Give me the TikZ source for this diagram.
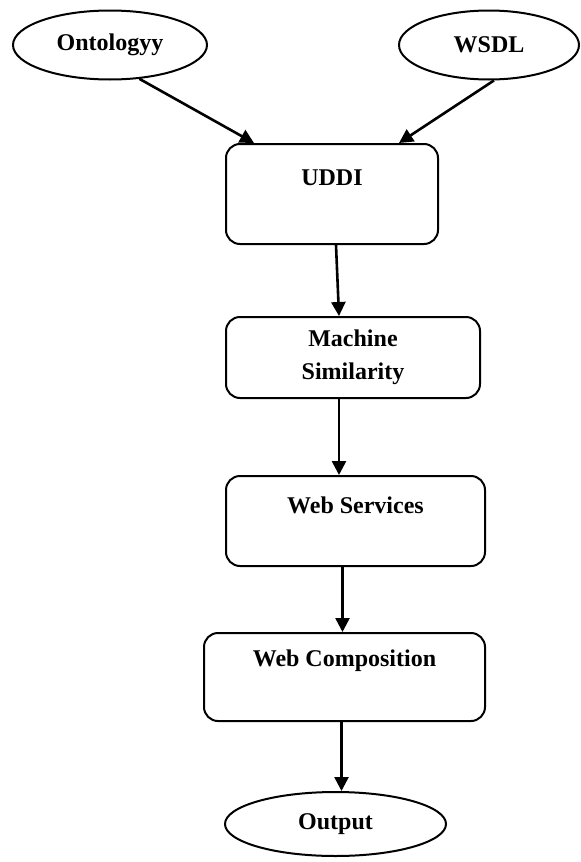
\documentclass[tikz,border=0pt]{standalone}
\usepackage{fontspec}
\setmainfont{Liberation Serif}
\usetikzlibrary{arrows.meta,shapes.geometric}
\newcommand{\flw}{-{Triangle[length=7pt,width=7pt]}}

\begin{document}
\begin{tikzpicture}[x=.5pt,y=-.5pt,
  font=\bfseries\fontsize{12}{16.5}\selectfont,
  blob/.style={draw,ellipse,line width=1pt,inner sep=0pt},
  card/.style={draw,rounded corners=7pt,line width=1pt,inner sep=0pt,align=center},
  uptext/.style={label={[anchor=center,yshift=8pt]center:#1}}]
\useasboundingbox (0,0) rectangle (581,862);
%inputs
\node[blob,minimum width=97pt,minimum height=34.5pt] (onto) at (110,45) {Ontologyy};
\node[blob,minimum width=90pt,minimum height=34.5pt] (wsdl) at (489,45) {WSDL};
%chain
\node[card,minimum width=106pt,minimum height=50pt,uptext=UDDI] (uddi) at (332,194) {};
\node[card,minimum width=127pt,minimum height=40.5pt] (mach) at (353,357.5) {Machine\\Similarity};
\node[card,minimum width=129.5pt,minimum height=45pt,uptext=Web Services] (ws) at (355.5,521) {};
\node[card,minimum width=140.5pt,minimum height=44pt,uptext=Web Composition] (wc) at (344.5,677) {};
\node[blob,minimum width=110.5pt,minimum height=32pt] (out) at (335.5,824) {Output};
%arrows
\draw[line width=1.3pt,\flw] (onto.-49) -- ([xshift=-39pt]uddi.north);
\draw[line width=1.3pt,\flw] (wsdl.-82) -- ([xshift=33.5pt]uddi.north);
\draw[line width=1.3pt,\flw] ([xshift=2pt]uddi.south) -- ([xshift=-7pt]mach.north);
\draw[line width=1.3pt,\flw] ([xshift=-7pt]mach.south) -- ([xshift=-7pt]mach.south |- ws.north);
\draw[line width=1.3pt,\flw] ([xshift=-6.5pt]ws.south) -- ([xshift=-6.5pt]ws.south |- wc.north);
\draw[line width=1.3pt,\flw] ([xshift=-1.5pt]wc.south) -- ([xshift=-1.5pt]wc.south |- out.north);
\end{tikzpicture}
\end{document}
